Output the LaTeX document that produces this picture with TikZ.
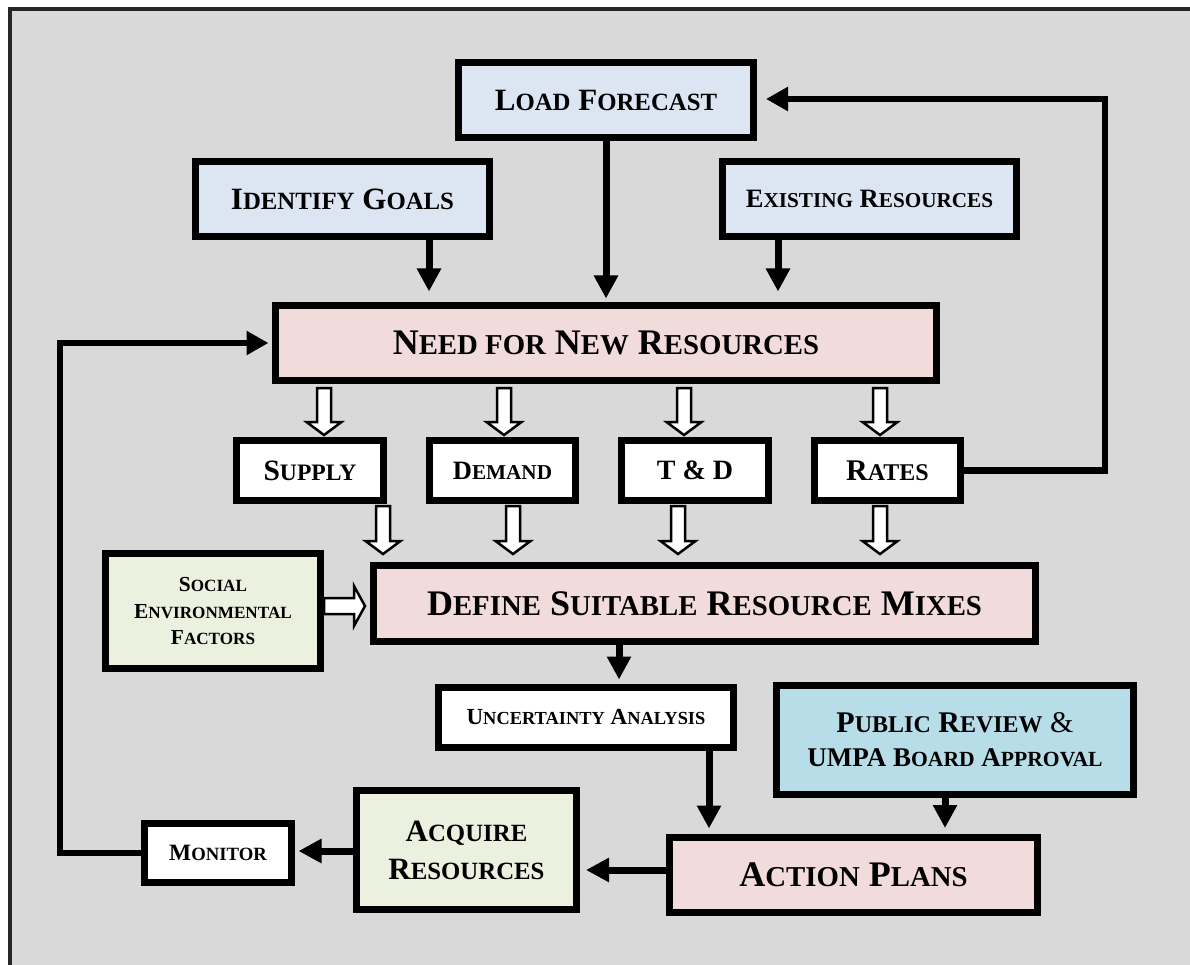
\documentclass[tikz,border=0pt]{standalone}
\usepackage{fontspec}
\setmainfont{Liberation Serif}
\usetikzlibrary{arrows.meta,calc}
\definecolor{bgray}{HTML}{D9D9D9}
\definecolor{bluebox}{HTML}{DCE6F2}
\definecolor{pinkbox}{HTML}{F2DCDB}
\definecolor{greenbox}{HTML}{EBF1DE}
\definecolor{cyanbox}{HTML}{B7DEE8}
\makeatletter
\newcommand\smc[1]{{\fontsize{\fpeval{0.8*\f@size}}{0}\selectfont #1}}
\makeatother
\newcommand\FSz[2]{\fontsize{#1}{#2}\selectfont\bfseries}
\newcommand\hdown[3]{%
  \draw[hollow] (#1-7,#2) -- (#1+7,#2) -- (#1+7,#3-13) -- (#1+17.5,#3-13) -- (#1,#3) -- (#1-17.5,#3-13) -- (#1-7,#3-13) -- cycle;}
\begin{document}
\begin{tikzpicture}[x=1pt,y=-1pt,
  box/.style={draw=black, line width=7pt, align=center, inner sep=0pt, text=black},
  arr/.style={line width=7pt, -{Triangle[length=23pt,width=23pt]}},
  fb/.style={line width=6.5pt, line join=miter, -{Triangle[length=22pt,width=23pt]}},
  hollow/.style={draw=black, fill=white, line width=2.5pt, line join=miter}]
\useasboundingbox (0,0) rectangle (1190,965);
\clip (0,0) rectangle (1190,965);
% background frame
\fill[bgray] (9.5,9.5) rectangle (1210,990);
\draw[line width=4pt, black!85] (9.5,990) -- (9.5,9.5) -- (1210,9.5);

% nodes
\node[box, fill=bluebox, minimum width=295pt, minimum height=75pt, font=\FSz{31}{36}] (load) at (606,100) {L\smc{OAD} F\smc{ORECAST}};
\node[box, fill=bluebox, minimum width=294pt, minimum height=75pt, font=\FSz{31}{36}] (goals) at (342.5,199) {I\smc{DENTIFY} G\smc{OALS}};
\node[box, fill=bluebox, minimum width=294pt, minimum height=75pt, font=\FSz{26.5}{32}] (exist) at (869.5,199) {E\smc{XISTING} R\smc{ESOURCES}};
\node[box, fill=pinkbox, minimum width=661pt, minimum height=75pt, font=\FSz{36}{42}] (need) at (606,343) {N\smc{EED FOR} N\smc{EW} R\smc{ESOURCES}};
\node[box, fill=white, minimum width=147pt, minimum height=60pt, font=\FSz{29.5}{34}] (supply) at (310,470.5) {S\smc{UPPLY}};
\node[box, fill=white, minimum width=146pt, minimum height=60pt, font=\FSz{26.5}{32}] (demand) at (502.5,470.5) {D\smc{EMAND}};
\node[box, fill=white, minimum width=147pt, minimum height=60pt, font=\FSz{28}{32}] (td) at (695,470.5) {T \& D};
\node[box, fill=white, minimum width=146pt, minimum height=60pt, font=\FSz{30}{34}] (rates) at (887.5,470.5) {R\smc{ATES}};
\node[box, fill=greenbox, minimum width=215pt, minimum height=115pt, font=\FSz{21.4}{26.5}] (social) at (213,611) {S\smc{OCIAL}\\E\smc{NVIRONMENTAL}\\F\smc{ACTORS}};
\node[box, fill=pinkbox, minimum width=662pt, minimum height=76pt, font=\FSz{36}{42}] (define) at (704.5,603.5) {D\smc{EFINE} S\smc{UITABLE} R\smc{ESOURCE} M\smc{IXES}};
\node[box, fill=white, minimum width=295pt, minimum height=60pt, font=\FSz{23}{28}] (uncert) at (586,717.5) {U\smc{NCERTAINTY} A\smc{NALYSIS}};
\node[box, fill=cyanbox, minimum width=357pt, minimum height=109pt, font=\FSz{27}{34}] (public) at (955,740) {{\fontsize{30}{34}\selectfont P\smc{UBLIC} R\smc{EVIEW} {\mdseries\&}}\\UMPA B\smc{OARD} A\smc{PPROVAL}};
\node[box, fill=pinkbox, minimum width=368pt, minimum height=75pt, font=\FSz{36}{42}] (action) at (853.5,875) {A\smc{CTION} P\smc{LANS}};
\node[box, fill=greenbox, minimum width=220pt, minimum height=119pt, font=\FSz{31}{38}] (acquire) at (466.5,850) {A\smc{CQUIRE}\\R\smc{ESOURCES}};
\node[box, fill=white, minimum width=147pt, minimum height=59pt, font=\FSz{23.4}{28}] (monitor) at (218,853) {M\smc{ONITOR}};

% solid arrows
\draw[arr] (goals.south -| 429,0) -- ([yshift=10.5pt]need.north -| 429,0);
\draw[arr] (load.south) -- ([yshift=3.5pt]need.north);
\draw[arr] (exist.south -| 778,0) -- ([yshift=10.5pt]need.north -| 778,0);
\draw[arr] (define.south -| 619,0) -- ([yshift=4.5pt]uncert.north -| 619,0);
\draw[arr] (uncert.south -| 709,0) -- ([yshift=5.5pt]action.north -| 709,0);
\draw[arr] (public.south -| 945,0) -- ([yshift=6pt]action.north -| 945,0);
\draw[arr] (action.west |- 0,870) -- ([xshift=6pt]acquire.east |- 0,870);
\draw[arr] (acquire.west |- 0,851) -- ([xshift=3.5pt]monitor.east |- 0,851);
% feedback loops
\draw[fb] (rates.east) -| (1105,99) -- ([xshift=9pt]load.east |- 0,99);
\draw[fb] (monitor.west) -| (60,343) -- ([xshift=-3.5pt]need.west);

% hollow arrows
\hdown{324}{388}{435}
\hdown{504}{388}{435}
\hdown{684}{388}{435}
\hdown{880}{388}{435}
\hdown{383}{506}{554}
\hdown{513}{506}{554}
\hdown{678}{506}{554}
\hdown{880}{506}{554}
\draw[hollow] (social.east |- 0,598) -- (354,598) -- (354,586) -- (365,606) -- (354,626) -- (354,614) -- (social.east |- 0,614) -- cycle;
\end{tikzpicture}
\end{document}
